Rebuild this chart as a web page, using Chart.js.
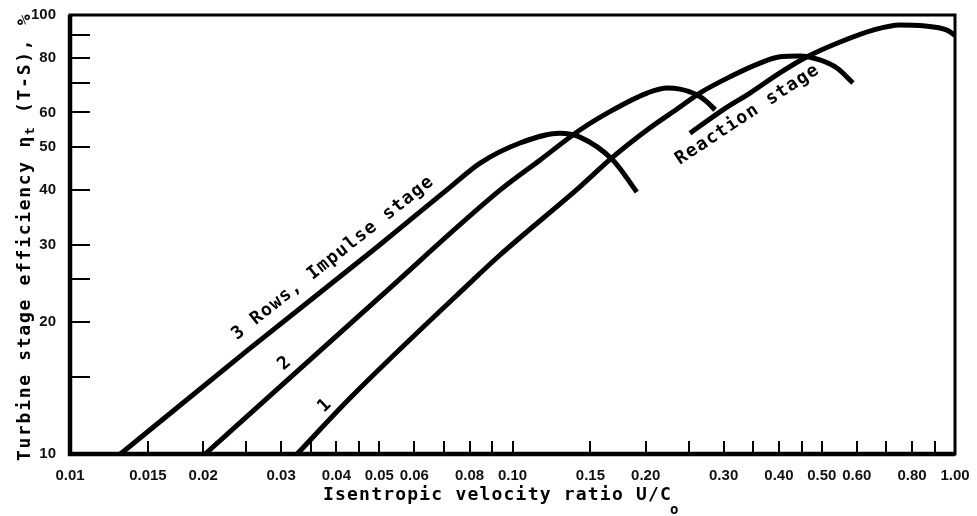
<!DOCTYPE html>
<html lang="en">
<head>
    <meta charset="UTF-8">
    <title>Turbine stage efficiency vs isentropic velocity ratio</title>
    <script src="https://cdn.jsdelivr.net/npm/chart.js"></script>
    <style>
        html, body { margin: 0; padding: 0; background: #fff; }
        #effChart { display: block; }
    </style>
</head>
<body>
    <canvas id="effChart" width="977" height="516"></canvas>

    <script>
        // values: x = U/Co, y = efficiency %
        const threeRowX = [0.013, 0.0255, 0.05, 0.0722, 0.0845, 0.104, 0.128, 0.142, 0.1687, 0.191];
        const threeRowY = [10, 17.4, 29.9, 40.5, 46.0, 51.1, 53.8, 52.7, 46.7, 39.5];

        const twoRowX = [0.0202, 0.0502, 0.0937, 0.1153, 0.142, 0.1687, 0.2014, 0.2235, 0.239, 0.261, 0.275, 0.287];
        const twoRowY = [10, 22.8, 39.9, 46.7, 54.7, 60.8, 66.4, 68.2, 67.8, 65.8, 63.4, 60.8];

        const oneRowX = [0.0326, 0.0429, 0.0814, 0.0937, 0.142, 0.1687, 0.2014, 0.239, 0.265, 0.31, 0.3624, 0.402, 0.446, 0.495, 0.541, 0.588];
        const oneRowY = [10, 13.4, 24.9, 28.4, 40.6, 47.5, 54.7, 61.7, 66.4, 72.3, 77.7, 80.3, 80.7, 79.0, 75.7, 70.0];

        const reactionX = [0.2518, 0.299, 0.344, 0.402, 0.463, 0.55, 0.653, 0.751, 0.847, 0.959, 1.0];
        const reactionY = [53.8, 60.8, 66.4, 73.8, 80.3, 86.8, 92.4, 94.9, 94.5, 92.4, 89.9];

        const xTicks = [0.01, 0.015, 0.02, 0.025, 0.03, 0.035, 0.04, 0.045, 0.05, 0.06, 0.07, 0.08, 0.09, 0.10,
                        0.15, 0.20, 0.25, 0.30, 0.35, 0.40, 0.45, 0.50, 0.60, 0.70, 0.80, 0.90, 1.00];
        const xTickLabels = ['0.01', '0.015', '0.02', '', '0.03', '', '0.04', '', '0.05', '0.06', '', '0.08', '', '0.10',
                             '0.15', '0.20', '', '0.30', '', '0.40', '', '0.50', '0.60', '', '0.80', '', '1.00'];

        const yTicks = [10, 15, 20, 25, 30, 40, 50, 60, 70, 80, 90, 100];
        const yTickLabels = ['10', '', '20', '', '30', '40', '50', '60', '', '80', '', '100'];

        const toPoints = (xs, ys) => xs.map((x, i) => ({ x: x, y: ys[i] }));

        const lineStyle = {
            borderColor: '#000',
            borderWidth: 5,
            pointRadius: 0,
            fill: false,
            cubicInterpolationMode: 'monotone'
        };

        const monoFont = '"DejaVu Sans Mono", "Liberation Mono", monospace';

        // text on the curves, placed in data units
        const curveNotes = [
            { text: '3 Rows, Impulse stage', x: 0.0393, y: 27.96, angle: -38.5 },
            { text: '2', x: 0.0306, y: 16.1, angle: -41 },
            { text: '1', x: 0.0377, y: 12.9, angle: -44 },
            { text: 'Reaction stage', x: 0.3398, y: 59.3, angle: -33.4 }
        ];

        // inward tick marks, heavy frame, curve notes and axis titles
        const notesPlugin = {
            id: 'notes',
            afterDatasetsDraw(chart) {
                const { ctx, chartArea: a, scales: { x, y } } = chart;
                ctx.save();
                ctx.strokeStyle = '#000';
                ctx.fillStyle = '#000';

                ctx.lineWidth = 2;
                ctx.beginPath();
                xTicks.forEach(v => {
                    const px = Math.round(x.getPixelForValue(v));
                    ctx.moveTo(px, a.bottom);
                    ctx.lineTo(px, a.bottom - 13);
                });
                yTicks.forEach(v => {
                    const py = Math.round(y.getPixelForValue(v));
                    ctx.moveTo(a.left, py);
                    ctx.lineTo(a.left + 20, py);
                });
                ctx.stroke();

                ctx.lineWidth = 3;
                ctx.strokeRect(a.left, a.top, a.right - a.left, a.bottom - a.top);
                ctx.lineWidth = 4.5;
                ctx.beginPath();
                ctx.moveTo(a.left, a.top);
                ctx.lineTo(a.left, a.bottom);
                ctx.lineTo(a.right, a.bottom);
                ctx.stroke();

                // labels along the curves
                ctx.font = 'bold 18px ' + monoFont;
                ctx.letterSpacing = '1.2px';
                ctx.textAlign = 'center';
                ctx.textBaseline = 'middle';
                curveNotes.forEach(n => {
                    ctx.save();
                    ctx.translate(x.getPixelForValue(n.x), y.getPixelForValue(n.y));
                    ctx.rotate(n.angle * Math.PI / 180);
                    ctx.fillText(n.text, 0, 0);
                    ctx.restore();
                });

                // x axis title with subscript
                ctx.textAlign = 'left';
                const xTitle = 'Isentropic velocity ratio U/C';
                ctx.fillText(xTitle, 323, 495);
                const xw = ctx.measureText(xTitle).width;
                ctx.font = 'bold 14px ' + monoFont;
                ctx.fillText('o', 323 + xw - 2, 510);

                // y axis title, rotated, with subscript
                ctx.save();
                ctx.letterSpacing = '1.7px';
                ctx.translate(25, 461);
                ctx.rotate(-Math.PI / 2);
                let cx = 0;
                const run = (txt, size, dy) => {
                    ctx.font = 'bold ' + size + 'px ' + monoFont;
                    ctx.fillText(txt, cx, dy);
                    cx += ctx.measureText(txt).width;
                };
                run('Turbine stage efficiency ', 18, 0);
                run('\u03b7', 18, 0);
                run('t', 13, 6);
                run(' (T-S), %', 18, 0);
                ctx.restore();

                ctx.restore();
            }
        };

        const tickFont = { family: '"Liberation Sans", Arial, sans-serif', weight: 'bold', size: 15 };

        new Chart(document.getElementById('effChart'), {
            type: 'line',
            data: {
                datasets: [
                    Object.assign({ label: '3 Rows, Impulse stage', data: toPoints(threeRowX, threeRowY) }, lineStyle),
                    Object.assign({ label: '2', data: toPoints(twoRowX, twoRowY) }, lineStyle),
                    Object.assign({ label: '1', data: toPoints(oneRowX, oneRowY) }, lineStyle),
                    Object.assign({ label: 'Reaction stage', data: toPoints(reactionX, reactionY) }, lineStyle)
                ]
            },
            options: {
                responsive: false,
                animation: false,
                layout: { padding: { top: 15, right: 22, left: 0, bottom: 0 } },
                plugins: {
                    legend: { display: false },
                    tooltip: { enabled: false }
                },
                scales: {
                    x: {
                        type: 'logarithmic',
                        min: 0.01,
                        max: 1,
                        grid: { display: false },
                        border: { display: false },
                        afterBuildTicks: s => { s.ticks = xTicks.map(v => ({ value: v })); },
                        afterFit: s => { s.height = 62; },
                        ticks: {
                            autoSkip: false,
                            maxRotation: 0,
                            minRotation: 0,
                            padding: 5,
                            color: '#111',
                            font: tickFont,
                            callback: (v, i) => xTickLabels[i]
                        }
                    },
                    y: {
                        type: 'logarithmic',
                        min: 10,
                        max: 100,
                        grid: { display: false },
                        border: { display: false },
                        afterBuildTicks: s => { s.ticks = yTicks.map(v => ({ value: v })); },
                        afterFit: s => { s.width = 70; },
                        ticks: {
                            autoSkip: false,
                            padding: 6,
                            color: '#111',
                            font: tickFont,
                            callback: (v, i) => yTickLabels[i]
                        }
                    }
                }
            },
            plugins: [notesPlugin]
        });
    </script>
</body>
</html>
